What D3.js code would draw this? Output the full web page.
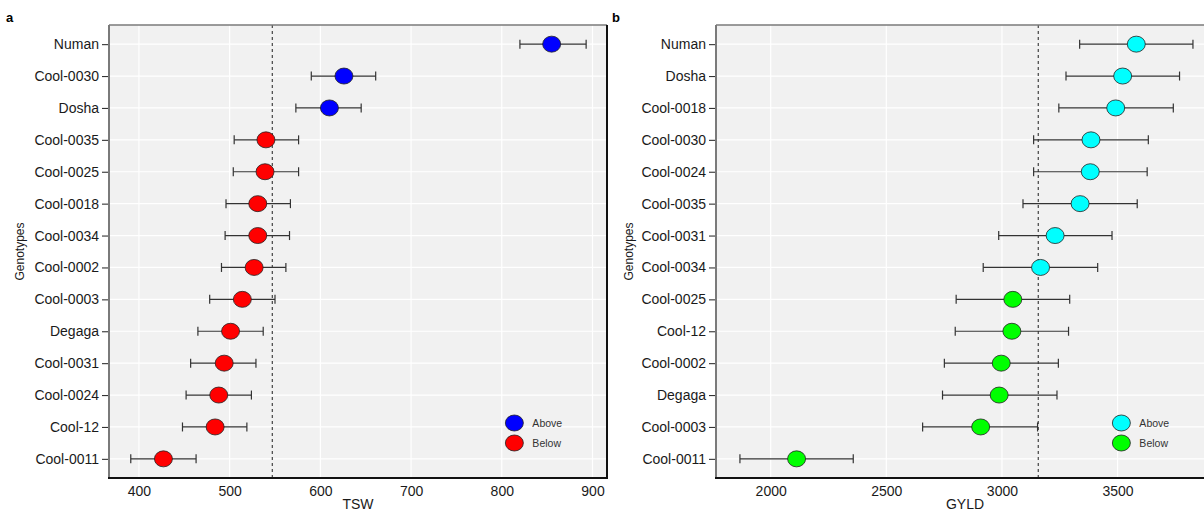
<!DOCTYPE html>
<html>
<head>
<meta charset="utf-8">
<script src="https://cdn.jsdelivr.net/npm/d3@7"></script>
<style>
  body { margin: 0; background: #fff; }
  svg { display: block; font-family: "Liberation Sans", Arial, sans-serif; }
</style>
</head>
<body>
<svg id="chart" width="1204" height="512"></svg>
<script>
// Panel a: thousand seed weight
const tswGenotypes = ["Numan","Cool-0030","Dosha","Cool-0035","Cool-0025","Cool-0018","Cool-0034",
  "Cool-0002","Cool-0003","Degaga","Cool-0031","Cool-0024","Cool-12","Cool-0011"];
const tswMean = [855, 626, 610, 540, 539, 531, 531, 527, 514, 501, 494, 488, 484, 427];
const tswLow  = [820, 590, 573, 505, 504, 496, 495, 491, 478, 465, 457, 452, 448, 391];
const tswHigh = [893, 661, 645, 576, 576, 567, 566, 562, 550, 537, 529, 524, 519, 463];
const tswGrandMean = 547;
const tswTicks = [400, 500, 600, 700, 800, 900];

// Panel b: grain yield
const gyldGenotypes = ["Numan","Dosha","Cool-0018","Cool-0030","Cool-0024","Cool-0035","Cool-0031",
  "Cool-0034","Cool-0025","Cool-12","Cool-0002","Degaga","Cool-0003","Cool-0011"];
const gyldMean = [3581, 3522, 3492, 3385, 3382, 3338, 3230, 3167, 3047, 3043, 2997, 2988, 2908, 2112];
const gyldLow  = [3336, 3277, 3246, 3137, 3137, 3091, 2986, 2919, 2802, 2798, 2751, 2743, 2657, 1867];
const gyldHigh = [3826, 3768, 3741, 3633, 3628, 3585, 3476, 3414, 3293, 3288, 3244, 3238, 3154, 2357];
const gyldGrandMean = 3157;
const gyldTicks = [2000, 2500, 3000, 3500];

const groupLabels = ["Above", "Below"];

const svg = d3.select("#chart");
svg.append("rect").attr("width", 1204).attr("height", 512).attr("fill", "#fff");

const plotTop = 25, plotBottom = 478;

function drawPanel(opt) {
  const g = svg.append("g");
  const x = d3.scaleLinear().domain(opt.domain).range([opt.left, opt.right]);
  const y = d3.scalePoint().domain(opt.genotypes).range([plotTop, plotBottom]).padding(0.6);

  const clipId = "clip-" + opt.letter;
  svg.append("clipPath").attr("id", clipId)
    .append("rect").attr("x", opt.left).attr("y", plotTop)
    .attr("width", opt.right - opt.left).attr("height", plotBottom - plotTop);

  // panel background
  g.append("rect")
    .attr("x", opt.left).attr("y", plotTop)
    .attr("width", opt.right - opt.left).attr("height", plotBottom - plotTop)
    .attr("fill", "#f1f1f1");

  const inner = g.append("g").attr("clip-path", `url(#${clipId})`);

  // grid
  inner.selectAll(".vgrid").data(opt.ticks).join("line")
    .attr("x1", d => x(d)).attr("x2", d => x(d))
    .attr("y1", plotTop).attr("y2", plotBottom)
    .attr("stroke", "#fff").attr("stroke-width", 1.2);
  inner.selectAll(".hgrid").data(opt.genotypes).join("line")
    .attr("x1", opt.left).attr("x2", opt.right)
    .attr("y1", d => y(d)).attr("y2", d => y(d))
    .attr("stroke", "#fff").attr("stroke-width", 1.2);

  // grand mean line
  inner.append("line")
    .attr("x1", x(opt.grand)).attr("x2", x(opt.grand))
    .attr("y1", plotTop).attr("y2", plotBottom)
    .attr("stroke", "#333").attr("stroke-width", 1.1)
    .attr("stroke-dasharray", "3,3");

  const rows = opt.genotypes.map((name, i) => ({
    name, mean: opt.mean[i], low: opt.low[i], high: opt.high[i]
  }));

  // error bars
  const eb = inner.selectAll(".eb").data(rows).join("g")
    .attr("stroke", "#333").attr("stroke-width", 1.2);
  eb.append("line")
    .attr("x1", d => x(d.low)).attr("x2", d => x(d.high))
    .attr("y1", d => y(d.name)).attr("y2", d => y(d.name));
  eb.append("line")
    .attr("x1", d => x(d.low)).attr("x2", d => x(d.low))
    .attr("y1", d => y(d.name) - 4.5).attr("y2", d => y(d.name) + 4.5);
  eb.append("line")
    .attr("x1", d => x(d.high)).attr("x2", d => x(d.high))
    .attr("y1", d => y(d.name) - 4.5).attr("y2", d => y(d.name) + 4.5);

  // points
  inner.selectAll(".pt").data(rows).join("ellipse")
    .attr("cx", d => x(d.mean)).attr("cy", d => y(d.name))
    .attr("rx", 9).attr("ry", 8)
    .attr("fill", d => d.mean > opt.grand ? opt.colors[0] : opt.colors[1])
    .attr("stroke", "#222").attr("stroke-width", 0.8);

  // legend
  const lx = opt.left + 0.814 * (opt.right - opt.left);
  const lg = g.selectAll(".leg").data(groupLabels).join("g")
    .attr("transform", (d, i) => `translate(${lx},${423 + i * 20})`);
  lg.append("ellipse").attr("rx", 9).attr("ry", 8)
    .attr("fill", (d, i) => opt.colors[i]).attr("stroke", "#222").attr("stroke-width", 0.8);
  lg.append("text").attr("x", 18).attr("dy", "0.35em")
    .attr("font-size", 10.5).attr("fill", "#333").text(d => d);

  // border: gray top/left, black bottom/right
  g.append("line").attr("x1", opt.left).attr("x2", opt.right).attr("y1", plotTop).attr("y2", plotTop)
    .attr("stroke", "#7a7a7a").attr("stroke-width", 1.5);
  g.append("line").attr("x1", opt.left).attr("x2", opt.left).attr("y1", plotTop).attr("y2", plotBottom)
    .attr("stroke", "#7a7a7a").attr("stroke-width", 2);
  g.append("line").attr("x1", opt.right).attr("x2", opt.right).attr("y1", plotTop).attr("y2", plotBottom)
    .attr("stroke", "#111").attr("stroke-width", 2);
  g.append("line").attr("x1", opt.left - 1).attr("x2", opt.right + 1).attr("y1", plotBottom).attr("y2", plotBottom)
    .attr("stroke", "#111").attr("stroke-width", 2);

  // y axis
  const yAxis = g.append("g").attr("transform", `translate(${opt.left - 1},0)`)
    .call(d3.axisLeft(y).tickSize(6).tickPadding(3));
  yAxis.select(".domain").remove();
  yAxis.selectAll("line").attr("stroke", "#333").attr("stroke-width", 1.1);
  yAxis.selectAll("text").attr("font-size", 14).attr("fill", "#1a1a1a")
    .attr("font-family", "Liberation Sans, Arial, sans-serif");

  // x axis
  const xAxis = g.append("g").attr("transform", `translate(0,${plotBottom})`)
    .call(d3.axisBottom(x).tickValues(opt.ticks).tickSize(0).tickPadding(8).tickFormat(d3.format("d")));
  xAxis.select(".domain").remove();
  xAxis.selectAll("text").attr("font-size", 14).attr("fill", "#1a1a1a")
    .attr("font-family", "Liberation Sans, Arial, sans-serif");

  // titles
  g.append("text").attr("x", (opt.left + opt.right) / 2)
    .attr("y", 509).attr("text-anchor", "middle").attr("font-size", 14).attr("fill", "#1a1a1a")
    .text(opt.xTitle);
  g.append("text")
    .attr("transform", `translate(${opt.yTitleX},${(plotTop + plotBottom) / 2}) rotate(-90)`)
    .attr("text-anchor", "middle").attr("font-size", 12).attr("fill", "#1a1a1a")
    .text("Genotypes");
  g.append("text").attr("x", opt.letterX).attr("y", 22)
    .attr("font-size", 13).attr("font-weight", "bold").attr("fill", "#000")
    .text(opt.letter);
}

drawPanel({
  letter: "a", letterX: 6, yTitleX: 24,
  left: 109, right: 607, domain: [367, 916],
  genotypes: tswGenotypes, mean: tswMean, low: tswLow, high: tswHigh,
  grand: tswGrandMean, ticks: tswTicks, xTitle: "TSW",
  colors: ["#0000ff", "#ff0000"]
});

drawPanel({
  letter: "b", letterX: 612, yTitleX: 633,
  left: 716, right: 1214, domain: [1763.5, 3917],
  genotypes: gyldGenotypes, mean: gyldMean, low: gyldLow, high: gyldHigh,
  grand: gyldGrandMean, ticks: gyldTicks, xTitle: "GYLD",
  colors: ["#00ffff", "#00ff00"]
});
</script>
</body>
</html>
